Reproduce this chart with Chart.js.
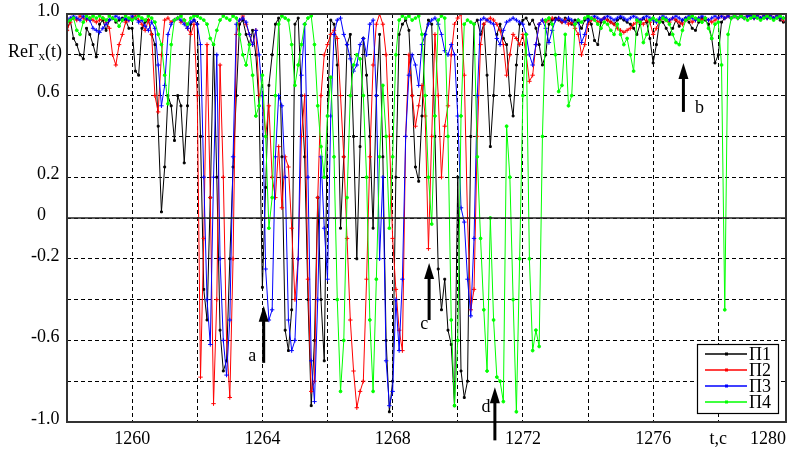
<!DOCTYPE html>
<html><head><meta charset="utf-8">
<script src="https://cdn.jsdelivr.net/npm/chart.js@4.4.0/dist/chart.umd.min.js"></script>
<style>html,body{margin:0;padding:0;background:#fff;}#wrap{width:791px;height:450px;position:relative;}</style>
</head><body><div id="wrap"><canvas id="c" width="791" height="450"></canvas></div>
<script>
// ---- data (sampled every 0.1 s from 1258.0 s to 1280.0 s) ----
const T_START = 1258.0;
const T_STEP = 0.1;
const seriesLabels = ['П1', 'П2', 'П3', 'П4'];
const p1 = [
 0.92,0.97,0.88,0.85,0.80,0.78,0.93,0.90,0.85,0.79,
 0.95,0.97,0.92,0.97,0.98,0.96,0.97,0.98,0.97,0.93,
 0.93,0.72,0.70,0.93,0.96,0.97,0.90,0.85,0.45,0.03,
 0.25,0.60,0.55,0.38,0.60,0.55,0.27,0.55,0.95,0.97,
 0.95,0.40,-0.35,-0.50,0.10,0.85,0.20,-0.55,-0.75,-0.70,
 -0.20,0.25,0.60,0.95,0.97,0.90,0.85,0.92,0.80,0.55,
 -0.34,0.15,0.65,0.80,0.95,0.98,0.30,-0.55,-0.65,-0.45,
 0.95,0.98,0.60,0.30,-0.40,-0.92,-0.60,0.10,-0.40,-0.70,
 0.50,0.97,0.95,0.75,-0.05,0.30,0.85,0.90,0.40,-0.20,
 0.35,0.88,0.70,0.40,-0.05,0.60,0.90,0.30,-0.60,-0.95,
 -0.80,0.20,0.90,0.95,0.97,0.92,0.60,0.25,0.18,0.50,
 0.90,0.97,0.95,0.40,-0.25,-0.45,-0.30,-0.55,-0.62,-0.92,
 0.20,-0.75,-0.88,-0.80,0.40,0.95,0.97,0.90,0.95,0.70,
 0.35,0.60,0.90,0.95,0.88,0.85,0.60,0.50,0.75,0.95,
 0.97,0.98,0.95,0.97,0.93,0.85,0.75,0.80,0.95,0.97,
 0.98,0.97,0.96,0.98,0.97,0.95,0.97,0.96,0.93,0.97,
 0.98,0.95,0.87,0.85,0.96,0.98,0.97,0.96,0.95,0.97,
 0.98,0.97,0.96,0.95,0.93,0.90,0.95,0.98,0.96,0.88,
 0.76,0.85,0.97,0.96,0.93,0.90,0.93,0.97,0.94,0.97,
 0.98,0.96,0.93,0.92,0.96,0.98,0.97,0.95,0.88,0.76,
 0.80,0.96,0.98,0.99,0.98,0.99,0.98,0.99,0.98,0.99,
 0.99,0.98,0.99,0.98,0.99,0.98,0.99,0.98,0.99,0.97,
 0.96];
const p2 = [
 0.92,0.96,0.98,0.97,0.99,0.98,0.97,0.98,0.97,0.96,
 0.97,0.98,0.96,0.93,0.80,0.75,0.85,0.90,0.96,0.97,
 0.98,0.99,0.97,0.95,0.92,0.97,0.90,0.60,0.52,0.80,
 0.97,0.98,0.96,0.97,0.98,0.96,0.97,0.93,0.90,0.95,
 0.60,-0.78,-0.10,0.85,0.10,-0.91,-0.40,0.75,0.20,-0.60,
 -0.88,-0.20,0.90,0.97,0.99,0.95,0.90,0.85,0.92,0.60,
 0.60,0.40,0.55,0.20,0.10,0.35,0.05,0.30,0.25,-0.05,
 -0.40,-0.20,0.40,0.60,-0.30,-0.85,-0.80,0.10,0.60,0.80,
 0.85,0.90,0.92,0.88,0.60,0.30,-0.10,-0.50,-0.75,-0.93,
 -0.85,-0.80,-0.30,0.30,0.75,0.95,1.00,0.95,0.80,0.40,
 -0.10,-0.35,-0.55,-0.65,0.40,0.80,0.60,0.45,0.55,0.65,
 0.50,-0.15,0.40,0.90,0.60,0.20,0.45,0.55,0.80,0.95,
 0.98,1.00,0.70,0.00,-0.45,-0.35,0.40,0.85,0.95,0.97,
 0.98,0.97,0.95,0.92,0.85,0.70,0.80,0.90,0.88,0.85,
 0.90,0.80,0.67,0.70,0.85,0.95,0.97,0.96,0.97,0.98,
 0.97,0.98,0.96,0.97,0.95,0.96,0.93,0.90,0.80,0.85,
 0.95,0.97,0.98,0.96,0.97,0.98,0.97,0.96,0.95,0.93,
 0.92,0.91,0.92,0.93,0.95,0.96,0.97,0.95,0.97,0.96,
 0.90,0.93,0.97,0.98,0.97,0.96,0.98,0.97,0.96,0.95,
 0.97,0.98,0.96,0.97,0.98,0.97,0.98,0.97,0.96,0.97,
 0.98,0.99,0.98,0.99,0.98,0.99,0.98,0.99,0.98,0.99,
 0.99,0.98,0.99,0.98,0.99,0.98,0.99,0.98,0.99,0.98,
 0.97];
const p3 = [
 0.97,0.98,0.99,0.98,0.97,0.99,0.98,0.97,0.93,0.92,
 0.91,0.93,0.95,0.97,0.98,0.99,0.98,0.97,0.98,0.97,
 0.99,0.98,0.96,0.97,0.94,0.92,0.96,0.93,0.75,0.55,
 0.65,0.90,0.95,0.97,0.98,0.97,0.95,0.93,0.96,0.97,
 0.95,0.85,0.20,-0.40,-0.62,0.20,0.80,-0.20,-0.60,-0.77,
 -0.50,0.30,0.95,0.97,0.98,0.96,0.90,0.85,0.92,0.80,
 0.60,-0.25,-0.50,-0.45,0.30,0.60,0.55,0.20,-0.50,-0.65,
 -0.60,-0.20,0.70,0.95,0.20,-0.70,-0.90,-0.40,0.30,-0.05,
 -0.30,0.50,0.90,0.97,0.98,0.90,0.85,0.78,0.72,0.75,
 0.85,0.88,0.80,0.95,0.97,0.60,-0.20,0.20,-0.70,-0.92,
 -0.85,-0.40,-0.65,-0.30,0.40,0.70,0.80,0.75,0.65,0.85,
 0.90,0.95,0.97,0.98,0.95,0.90,0.82,0.80,0.85,0.80,
 0.50,0.05,-0.02,-0.30,-0.48,-0.10,0.60,0.97,0.98,0.97,
 0.96,0.95,0.88,0.85,0.92,0.96,0.97,0.98,0.97,0.96,
 0.95,0.90,0.80,0.75,0.85,0.95,0.97,0.93,0.86,0.92,
 0.97,0.98,0.97,0.96,0.98,0.97,0.95,0.97,0.86,0.90,
 0.97,0.98,0.99,0.98,0.97,0.98,0.99,0.98,0.97,0.98,
 0.99,0.98,0.97,0.98,0.99,0.98,0.97,0.98,0.99,0.98,
 0.97,0.96,0.98,0.99,0.98,0.97,0.98,0.99,0.98,0.97,
 0.98,0.99,0.98,0.97,0.98,0.99,0.98,0.97,0.98,0.99,
 0.98,0.99,0.98,0.99,0.98,0.99,0.98,0.99,0.98,0.99,
 0.99,0.98,0.99,0.98,0.99,0.98,0.99,0.98,0.99,0.98,
 0.98];
const p4 = [
 0.96,0.97,0.98,0.92,0.90,0.96,0.99,0.98,0.99,0.98,
 0.99,0.98,0.97,0.99,0.98,0.97,0.94,0.97,0.99,0.98,
 0.97,0.98,0.99,0.98,0.97,0.99,0.98,0.96,0.90,0.85,
 0.70,0.56,0.85,0.97,0.98,0.99,0.97,0.95,0.98,0.99,
 0.99,0.98,0.97,0.95,0.88,0.85,0.92,0.97,0.99,0.98,
 0.97,0.99,0.98,0.90,0.80,0.75,0.85,0.70,0.50,0.55,
 0.70,0.40,-0.05,0.10,0.60,0.95,0.99,0.98,0.97,0.85,
 0.65,0.75,0.85,0.95,0.98,0.99,0.85,0.55,0.35,0.20,
 0.50,0.69,0.30,-0.40,-0.85,-0.60,0.10,0.60,0.75,0.80,
 0.78,0.60,0.20,-0.50,-0.85,-0.30,0.30,0.65,0.40,-0.05,
 0.30,0.80,0.97,0.99,0.98,0.99,0.97,0.98,0.99,0.90,
 0.60,0.20,-0.03,0.50,0.97,0.99,0.98,0.40,-0.50,-0.92,
 -0.60,0.50,0.95,0.97,0.96,0.95,0.30,-0.10,-0.45,-0.75,
 0.00,-0.50,-0.78,-0.80,-0.90,0.45,0.20,-0.40,-0.95,-0.20,
 0.60,0.90,-0.20,-0.65,-0.55,-0.63,0.40,0.97,0.98,0.95,
 0.80,0.62,0.65,0.90,0.55,0.60,0.95,0.97,0.96,0.98,
 0.99,0.98,0.97,0.95,0.93,0.96,0.95,0.92,0.90,0.95,
 0.90,0.85,0.88,0.80,0.72,0.97,0.96,0.86,0.90,0.97,
 0.98,0.97,0.96,0.98,0.97,0.95,0.90,0.86,0.85,0.92,
 0.97,0.98,0.99,0.98,0.97,0.96,0.98,0.93,0.88,0.95,
 0.96,0.75,-0.45,0.90,0.98,0.99,0.98,0.99,0.98,0.97,
 0.98,0.99,0.98,0.97,0.98,0.99,0.98,0.97,0.98,0.99,
 0.98];
const xTickValues = [1260, 1264, 1268, 1272, 1276, 1278, 1280];
const xTickLabels = ['1260', '1264', '1268', '1272', '1276', 't,c', '1280'];
const yTickValues = [1.0, 0.8, 0.6, 0.2, 0, -0.2, -0.6, -1.0];
const yTickLabels = ['1.0', 'ReΓ_x(t)', '0.6', '0.2', '0', '-0.2', '-0.6', '-1.0'];
const annotationLetters = ['a', 'b', 'c', 'd'];

// ---- styles / placement ----
const seriesValues = [p1, p2, p3, p4];
const seriesColors = ['#000000', '#ff0000', '#0000ff', '#00ff00'];
const seriesPoint = [
  {style: 'rect', r: 1.3}, {style: 'cross', r: 2.2}, {style: 'cross', r: 2.2}, {style: 'circle', r: 1.4}
];
const arrowSpecs = { // data-space anchor of arrow tip/tail and letter
  a: {x: 1264.04, tip: -0.43, tail: -0.71, lx: 1263.69, ly: -0.68},
  b: {x: 1276.93, tip: 0.76, tail: 0.52, lx: 1277.42, ly: 0.54},
  c: {x: 1269.12, tip: -0.22, tail: -0.50, lx: 1268.97, ly: -0.52},
  d: {x: 1271.14, tip: -0.83, tail: -1.09, lx: 1270.87, ly: -0.93}
};
const FONT = '18px "Liberation Serif", "DejaVu Serif", serif';

const datasets = seriesValues.map((vals, k) => ({
  label: seriesLabels[k],
  data: vals.map((v, i) => ({x: +(T_START + i * T_STEP).toFixed(2), y: v})),
  borderColor: seriesColors[k],
  backgroundColor: seriesColors[k],
  borderWidth: 1,
  pointStyle: seriesPoint[k].style,
  pointRadius: seriesPoint[k].r,
  pointBorderWidth: 1,
  tension: 0,
  order: 4 - k
}));

const decorPlugin = {
  id: 'decor',
  afterDatasetsDraw(chart) {
    const {ctx, chartArea: ca, scales: {x, y}} = chart;
    ctx.save();
    // zero line
    const y0 = y.getPixelForValue(0);
    ctx.strokeStyle = '#222'; ctx.lineWidth = 1.5; ctx.setLineDash([]);
    ctx.beginPath(); ctx.moveTo(ca.left, y0); ctx.lineTo(ca.right, y0); ctx.stroke();
    // frame
    ctx.strokeStyle = '#333'; ctx.lineWidth = 2;
    ctx.strokeRect(ca.left, ca.top, ca.right - ca.left, ca.bottom - ca.top);
    ctx.restore();
  },
  afterDraw(chart) {
    const {ctx, chartArea: ca, scales: {x, y}} = chart;
    ctx.save();
    ctx.font = FONT; ctx.fillStyle = '#000'; ctx.textBaseline = 'middle';
    // y labels (decimal aligned)
    const decX = ca.left - 21;
    yTickValues.forEach((v, i) => {
      const lab = yTickLabels[i];
      const py = y.getPixelForValue(v) - 3;
      if (lab.indexOf('_') >= 0) {
        const [base, rest] = lab.split('_');
        const sub = rest.charAt(0), tail = rest.slice(1);
        const fSub = '13px "Liberation Serif", serif';
        ctx.font = FONT; const wb = ctx.measureText(base).width; const wt = ctx.measureText(tail).width;
        ctx.font = fSub; const ws = ctx.measureText(sub).width;
        let sx = ca.left - 5 - (wb + ws + wt);
        ctx.textAlign = 'left';
        ctx.font = FONT; ctx.fillText(base, sx, py);
        ctx.font = fSub; ctx.fillText(sub, sx + wb, py + 5);
        ctx.font = FONT; ctx.fillText(tail, sx + wb + ws, py);
      } else {
        const intPart = lab.split('.')[0];
        ctx.font = FONT;
        const wi = ctx.measureText(intPart).width;
        ctx.textAlign = 'left';
        ctx.fillText(lab, decX - wi, py);
      }
    });
    // x labels
    ctx.font = FONT;
    xTickValues.forEach((v, i) => {
      const lab = xTickLabels[i];
      const px = x.getPixelForValue(v);
      const w = ctx.measureText(lab).width;
      let lx = px - w / 2;
      if (lx + w > ca.right) lx = ca.right - w;
      ctx.textAlign = 'left';
      ctx.fillText(lab, lx, ca.bottom + 17);
    });
    // arrows
    annotationLetters.forEach(L => {
      const s = arrowSpecs[L];
      const ax = x.getPixelForValue(s.x);
      const ty = y.getPixelForValue(s.tip), by = y.getPixelForValue(s.tail);
      ctx.strokeStyle = '#000'; ctx.fillStyle = '#000'; ctx.lineWidth = 3; ctx.setLineDash([]);
      ctx.beginPath(); ctx.moveTo(ax, by); ctx.lineTo(ax, ty + 12); ctx.stroke();
      ctx.beginPath(); ctx.moveTo(ax, ty); ctx.lineTo(ax - 5, ty + 16); ctx.lineTo(ax + 5, ty + 16); ctx.closePath(); ctx.fill();
      ctx.font = FONT; ctx.textAlign = 'center'; ctx.textBaseline = 'middle';
      ctx.fillText(L, x.getPixelForValue(s.lx), y.getPixelForValue(s.ly));
    });
    // legend
    const bw = 81, bh = 69;
    const bx = ca.right - 8 - bw, by0 = ca.bottom - 9 - bh;
    ctx.fillStyle = '#fff'; ctx.fillRect(bx, by0, bw, bh);
    ctx.strokeStyle = '#000'; ctx.lineWidth = 1.2; ctx.strokeRect(bx + 0.5, by0 + 0.5, bw, bh);
    chart.data.datasets.forEach((ds, k) => {
      const ly = by0 + 10 + k * 16;
      ctx.strokeStyle = ds.borderColor; ctx.lineWidth = 1.5;
      ctx.beginPath(); ctx.moveTo(bx + 8, ly); ctx.lineTo(bx + 50, ly); ctx.stroke();
      ctx.fillStyle = ds.borderColor;
      ctx.fillRect(bx + 28, ly - 1.5, 3, 3);
      ctx.fillStyle = '#000'; ctx.font = FONT; ctx.textAlign = 'left'; ctx.textBaseline = 'middle';
      ctx.fillText(ds.label, bx + 52, ly + 1);
    });
    ctx.restore();
  }
};

new Chart(document.getElementById('c'), {
  type: 'line',
  data: {datasets},
  options: {
    responsive: false, animation: false, devicePixelRatio: 1,
    layout: {padding: {left: 67, right: 2, top: 14, bottom: 28}},
    plugins: {legend: {display: false}, tooltip: {enabled: false}, title: {display: false}},
    elements: {line: {borderJoinStyle: 'miter'}},
    scales: {
      x: {type: 'linear', min: 1258, max: 1280.08,
          ticks: {display: false, stepSize: 2},
          grid: {color: '#000', lineWidth: 1, drawTicks: false, borderDash: [4, 3]},
          border: {display: false, dash: [4, 3]}},
      y: {type: 'linear', min: -1, max: 1,
          ticks: {display: false, stepSize: 0.2},
          grid: {color: '#000', lineWidth: 1, drawTicks: false, borderDash: [4, 3]},
          border: {display: false, dash: [4, 3]}}
    }
  },
  plugins: [decorPlugin]
});
</script></body></html>
